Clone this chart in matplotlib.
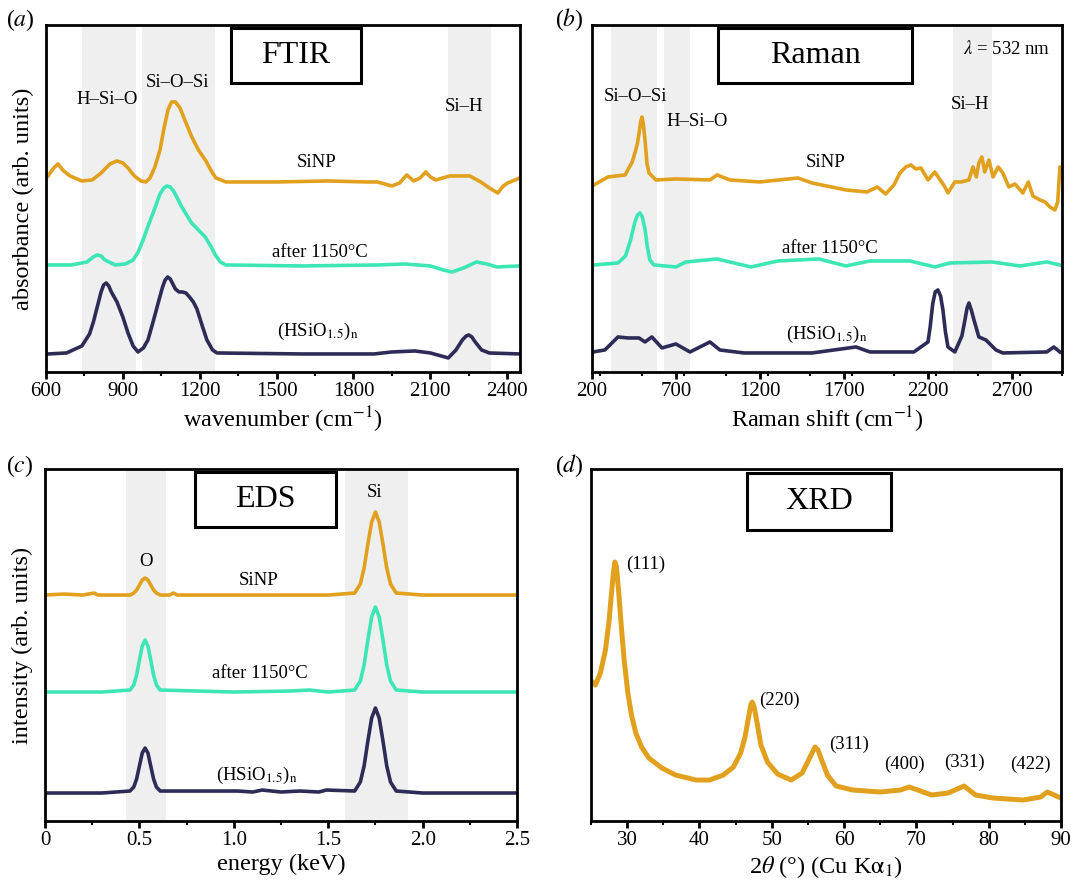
import matplotlib
matplotlib.use("Agg")
import matplotlib.pyplot as plt
from matplotlib.patches import Rectangle
from matplotlib.ticker import MultipleLocator

plt.rcParams.update({
    "font.family": ["Liberation Serif", "DejaVu Serif"],
    "mathtext.fontset": "stix",
    "axes.linewidth": 2.0,
})

ORANGE = "#E1A01E"
TURQ = "#3EE6B6"
NAVY = "#2E2B57"
BAND = "#EFEFEF"
HSIO = r"(HSiO$_{1.5}$)$_\mathrm{n}$"

# ---------------- (a) FTIR ----------------
ftir_sinp_x = [608, 630, 647, 665, 694, 740, 780, 811, 850, 877, 900, 920, 945, 970, 990, 1006,
               1025, 1045, 1060, 1076, 1090, 1105, 1123, 1145, 1169, 1195, 1224, 1245,
               1263, 1302, 1500, 1700, 1850, 1893, 1950, 1980, 2008, 2035, 2060, 2082, 2100,
               2121, 2176, 2254, 2297, 2330, 2363, 2385, 2402, 2449]
ftir_sinp_y = [196, 204, 208, 202, 196, 191, 192, 198, 208, 211, 209, 204, 196, 191, 190, 194,
               205, 222, 243, 262, 270, 270, 264, 250, 235, 222, 211, 201,
               194, 190, 190, 191, 190, 190, 186, 189, 197, 191, 194, 200, 195,
               192, 196, 196, 190, 184, 179, 186, 189, 194]
ftir_after_x = [608, 700, 760, 785, 800, 815, 830, 870, 910, 940, 960, 979, 1000, 1018, 1045,
                1060, 1072, 1085, 1100, 1130, 1168, 1195, 1221, 1245, 1261, 1280, 1302, 1600,
                1900, 2000, 2100, 2150, 2184, 2230, 2280, 2320, 2360, 2449]
ftir_after_y = [107, 107, 110, 115, 117, 116, 112, 107, 108, 112, 120, 132, 147, 159, 178,
                184, 186, 185, 180, 165, 149, 142, 135, 125, 117, 110, 107, 106,
                107, 108, 106, 102, 100, 104, 110, 108, 105, 106]
ftir_hsio_x = [608, 680, 740, 770, 785, 799, 815, 825, 835, 845, 855, 877, 900, 920, 940, 959,
               980, 998, 1020, 1041, 1055, 1065, 1075, 1085, 1095, 1105, 1119, 1132, 1146,
               1160, 1175, 1189, 1210, 1228, 1250, 1267, 1600, 1880, 1950, 2040, 2100, 2170,
               2200, 2225, 2240, 2250, 2262, 2275, 2300, 2330, 2449]
ftir_hsio_y = [18, 19, 26, 38, 50, 64, 80, 87, 89, 86, 80, 70, 55, 39, 26, 20,
               24, 32, 52, 72, 85, 92, 95, 93, 88, 83, 80, 80, 79,
               75, 70, 63, 46, 32, 22, 19, 18, 18, 20, 21, 19, 14,
               22, 32, 36, 37, 35, 30, 22, 19, 18]
ftir_bands = [(740, 950), (975, 1260), (2170, 2335)]
ftir_ticks = [600, 900, 1200, 1500, 1800, 2100, 2400]

# ---------------- (b) Raman ----------------
raman_sinp_x = [212, 295, 397, 440, 456, 470, 480, 490, 498, 506, 516, 528, 540, 581, 700, 903,
                945, 1022, 1200, 1427, 1511, 1713, 1838, 1900, 1950, 1999, 2035, 2070, 2100,
                2130, 2160, 2202, 2243, 2303, 2321, 2362, 2400, 2446, 2470, 2490, 2505, 2523,
                2540, 2565, 2590, 2620, 2648, 2684, 2720, 2767, 2800, 2827, 2869, 2900, 2928,
                2958, 2975, 2988, 2998]
raman_sinp_y = [187, 195, 197, 210, 219, 228, 238, 250, 255, 248, 232, 208, 199, 192, 193, 192,
                197, 192, 190, 194, 189, 182, 180, 185, 178, 187, 199, 205, 207,
                203, 204, 192, 200, 185, 179, 190, 190, 192, 205, 195, 209, 215,
                200, 212, 195, 205, 199, 185, 188, 179, 190, 176, 172, 170, 165,
                162, 170, 205, 200]
raman_after_x = [212, 355, 400, 430, 456, 472, 486, 500, 516, 530, 545, 569, 700, 760, 945,
                 1147, 1308, 1552, 1713, 1856, 2094, 2243, 2333, 2583, 2750, 2910, 2988]
raman_after_y = [107, 109, 116, 132, 150, 157, 159, 155, 143, 125, 112, 107, 105, 110, 113,
                 105, 111, 113, 106, 111, 111, 105, 109, 110, 106, 110, 107]
raman_hsio_x = [206, 277, 355, 414, 480, 516, 557, 617, 700, 784, 903, 962, 1105, 1511, 1773,
                1856, 2118, 2202, 2215, 2230, 2245, 2261, 2277, 2291, 2306, 2321, 2362, 2404,
                2420, 2435, 2446, 2460, 2476, 2505, 2547, 2607, 2648, 2910, 2952, 2988]
raman_hsio_y = [20, 22, 35, 34, 34, 30, 35, 24, 28, 20, 30, 22, 19, 19, 25,
                20, 20, 30, 45, 68, 80, 82, 76, 62, 40, 25, 20, 36,
                50, 64, 69, 62, 52, 35, 32, 22, 19, 20, 25, 20]
raman_bands = [(313, 587), (629, 784), (2350, 2583)]
raman_ticks = [200, 700, 1200, 1700, 2200, 2700]

# ---------------- (c) EDS ----------------
eds_sinp_x = [0, 0.1, 0.2, 0.26, 0.28, 0.4, 0.45, 0.47, 0.485, 0.5, 0.515, 0.53, 0.545, 0.56,
              0.575, 0.59, 0.61, 0.66, 0.68, 0.7, 1.0, 1.5, 1.64, 1.67, 1.69, 1.71, 1.73,
              1.75, 1.77, 1.79, 1.81, 1.83, 1.86, 2.0, 2.5]
eds_sinp_y = [226, 227, 226, 228, 226, 226, 226, 228, 231, 236, 241, 243, 241, 236,
              231, 228, 226, 226, 228, 226, 226, 226, 228, 237, 253, 277, 299,
              309, 299, 277, 253, 237, 228, 226, 226]
eds_after_x = [0, 0.3, 0.45, 0.47, 0.485, 0.5, 0.515, 0.53, 0.545, 0.56, 0.575, 0.59, 0.61,
               1.0, 1.3, 1.4, 1.45, 1.5, 1.64, 1.67, 1.69, 1.71, 1.73, 1.75, 1.77, 1.79,
               1.81, 1.83, 1.86, 2.0, 2.5]
eds_after_y = [129, 129, 131, 136, 146, 161, 175, 181, 175, 161, 146, 136, 131,
               129, 130, 131, 130, 129, 131, 140, 156, 181, 204, 214, 204, 181,
               156, 140, 131, 129, 129]
eds_hsio_x = [0, 0.3, 0.45, 0.47, 0.485, 0.5, 0.515, 0.53, 0.545, 0.56, 0.575, 0.59, 0.61,
              1.02, 1.1, 1.15, 1.25, 1.35, 1.45, 1.49, 1.64, 1.67, 1.69, 1.71, 1.73, 1.75,
              1.77, 1.79, 1.81, 1.83, 1.86, 2.0, 2.5]
eds_hsio_y = [28, 28, 30, 34, 42, 55, 68, 73, 68, 55, 42, 34, 30,
              30, 29, 31, 29, 30, 29, 31, 30, 39, 55, 80, 103, 113,
              103, 80, 55, 39, 30, 28, 28]
eds_bands = [(0.428, 0.64), (1.59, 1.92)]
eds_ticks = [0, 0.5, 1.0, 1.5, 2.0, 2.5]
eds_ticklabels = ["0", "0.5", "1.0", "1.5", "2.0", "2.5"]

# ---------------- (d) XRD ----------------
xrd_x = [24.9, 25.6, 26.3, 27.0, 27.5, 27.8, 28.1, 28.3, 28.5, 28.8, 29.2, 29.6, 30.1, 30.6,
         31.2, 32.0, 33.0, 34.8, 36.7, 39.5, 41.4, 43.3, 44.7, 45.7, 46.3, 46.8, 47.1, 47.3,
         47.6, 48.0, 48.5, 49.4, 50.8, 52.7, 54.2, 55.1, 55.7, 56.0, 56.4, 56.9, 57.7, 58.9,
         61.2, 65.0, 67.8, 69.0, 70.2, 72.1, 74.4, 76.6, 78.2, 80.6, 84.8, 87.2, 88.1, 90.0]
xrd_y = [141, 136, 148, 171, 200, 225, 248, 259, 255, 232, 194, 160, 128, 106,
         88, 74, 63, 53, 46, 41, 41, 46, 54, 68, 84, 104, 116, 119,
         113, 97, 76, 59, 47, 41, 48, 61, 70, 74, 71, 61, 46, 35,
         31, 29, 31, 34, 31, 26, 28, 35, 26, 23, 21, 24, 29, 23]
xrd_ticks = [30, 40, 50, 60, 70, 80, 90]
xrd_peaks = ["(111)", "(220)", "(311)", "(400)", "(331)", "(422)"]
xrd_peak_x = [32.6, 51.1, 60.7, 68.3, 76.7, 85.8]
xrd_peak_y = [257, 121, 77, 57, 59, 57]


def style(ax, xlim, ylim, ticks, minor, labels=None):
    ax.set_xlim(*xlim)
    ax.set_ylim(*ylim)
    ax.set_xticks(ticks)
    if labels is not None:
        ax.set_xticklabels(labels)
    ax.xaxis.set_minor_locator(MultipleLocator(minor))
    ax.set_yticks([])
    ax.tick_params(axis="x", which="major", direction="out", length=5, width=2, labelsize=15, pad=2)
    ax.tick_params(axis="x", which="minor", direction="out", length=3, width=1.5)


def title_box(ax, text, x0, x1, y0, y1):
    ax.add_patch(Rectangle((x0, y0), x1 - x0, y1 - y0, transform=ax.transAxes,
                           fc="white", ec="k", lw=2.2, zorder=5))
    ax.text((x0 + x1) / 2, (y0 + y1) / 2, text, transform=ax.transAxes,
            ha="center", va="center", fontsize=23, zorder=6)


def note(ax, x, y, s, **kw):
    ax.text(x, y, s, ha=kw.pop("ha", "center"), va="center", fontsize=13.5, zorder=4, **kw)


fig = plt.figure(figsize=(10.72, 8.85), dpi=100)
axa = fig.add_axes([0.0429, 0.5797, 0.4422, 0.3921])
axb = fig.add_axes([0.5522, 0.5797, 0.4384, 0.3921])
axc = fig.add_axes([0.0420, 0.0723, 0.4403, 0.3977])
axd = fig.add_axes([0.5513, 0.0723, 0.4384, 0.3977])
LW = 2.6

# (a)
for lo, hi in ftir_bands:
    axa.axvspan(lo, hi, color=BAND, lw=0, zorder=0)
axa.plot(ftir_sinp_x, ftir_sinp_y, color=ORANGE, lw=LW)
axa.plot(ftir_after_x, ftir_after_y, color=TURQ, lw=LW)
axa.plot(ftir_hsio_x, ftir_hsio_y, color=NAVY, lw=LW)
style(axa, (600, 2450), (0, 347), ftir_ticks, 150)
axa.set_xlabel(r"wavenumber (cm$^{-1}$)", fontsize=17.5, labelpad=3)
axa.set_ylabel("absorbance (arb. units)", fontsize=17.5)
axa.yaxis.set_label_coords(-0.025, 0.5)
title_box(axa, "FTIR", 0.390, 0.665, 0.833, 0.991)
note(axa, 838, 272, "H–Si–O")
note(axa, 1115, 289, "Si–O–Si")
note(axa, 2230, 265, "Si–H")
note(axa, 1657, 209, "SiNP")
note(axa, 1669, 119, "after 1150°C")
note(axa, 1661, 41, HSIO)

# (b)
for lo, hi in raman_bands:
    axb.axvspan(lo, hi, color=BAND, lw=0, zorder=0)
axb.plot(raman_sinp_x, raman_sinp_y, color=ORANGE, lw=LW)
axb.plot(raman_after_x, raman_after_y, color=TURQ, lw=LW)
axb.plot(raman_hsio_x, raman_hsio_y, color=NAVY, lw=LW)
style(axb, (200, 3000), (0, 347), raman_ticks, 250)
axb.set_xlabel(r"Raman shift (cm$^{-1}$)", fontsize=17.5, labelpad=3)
title_box(axb, "Raman", 0.269, 0.681, 0.833, 0.991)
note(axb, 462, 275, "Si–O–Si")
note(axb, 825, 250, "H–Si–O")
note(axb, 2452, 267, "Si–H")
note(axb, 1594, 209, "SiNP")
note(axb, 2928, 323, r"$\lambda$ = 532 nm", ha="right")
note(axb, 1618, 123, "after 1150°C")
note(axb, 1600, 38, HSIO)

# (c)
for lo, hi in eds_bands:
    axc.axvspan(lo, hi, color=BAND, lw=0, zorder=0)
axc.plot(eds_sinp_x, eds_sinp_y, color=ORANGE, lw=LW)
axc.plot(eds_after_x, eds_after_y, color=TURQ, lw=LW)
axc.plot(eds_hsio_x, eds_hsio_y, color=NAVY, lw=LW)
style(axc, (0, 2.5), (0, 352), eds_ticks, 0.25, eds_ticklabels)
axc.set_xlabel("energy (keV)", fontsize=17.5, labelpad=3)
axc.set_ylabel("intensity (arb. units)", fontsize=17.5)
axc.yaxis.set_label_coords(-0.025, 0.5)
title_box(axc, "EDS", 0.318, 0.617, 0.835, 0.991)
note(axc, 0.535, 260, "O")
note(axc, 1.748, 329, "Si")
note(axc, 1.133, 241, "SiNP")
note(axc, 1.136, 148, "after 1150°C")
note(axc, 1.123, 46, HSIO)

# (d)
axd.plot(xrd_x, xrd_y, color=ORANGE, lw=3.6)
style(axd, (25, 90), (0, 352), xrd_ticks, 5)
axd.set_xlabel(r"2$\theta$ (°) (Cu K$\mathrm{\alpha}_1$)", fontsize=17.5, labelpad=3)
title_box(axd, "XRD", 0.333, 0.638, 0.827, 0.989)
for s, x, y in zip(xrd_peaks, xrd_peak_x, xrd_peak_y):
    note(axd, x, y, s)

for s, x, y in [("a", 20, 20), ("b", 569, 20), ("c", 20, 466), ("d", 569, 466)]:
    fig.text(x / 1072, 1 - y / 885, rf"(${s}$)", ha="center", va="center", fontsize=17)

fig.savefig("out.png", dpi=100)
